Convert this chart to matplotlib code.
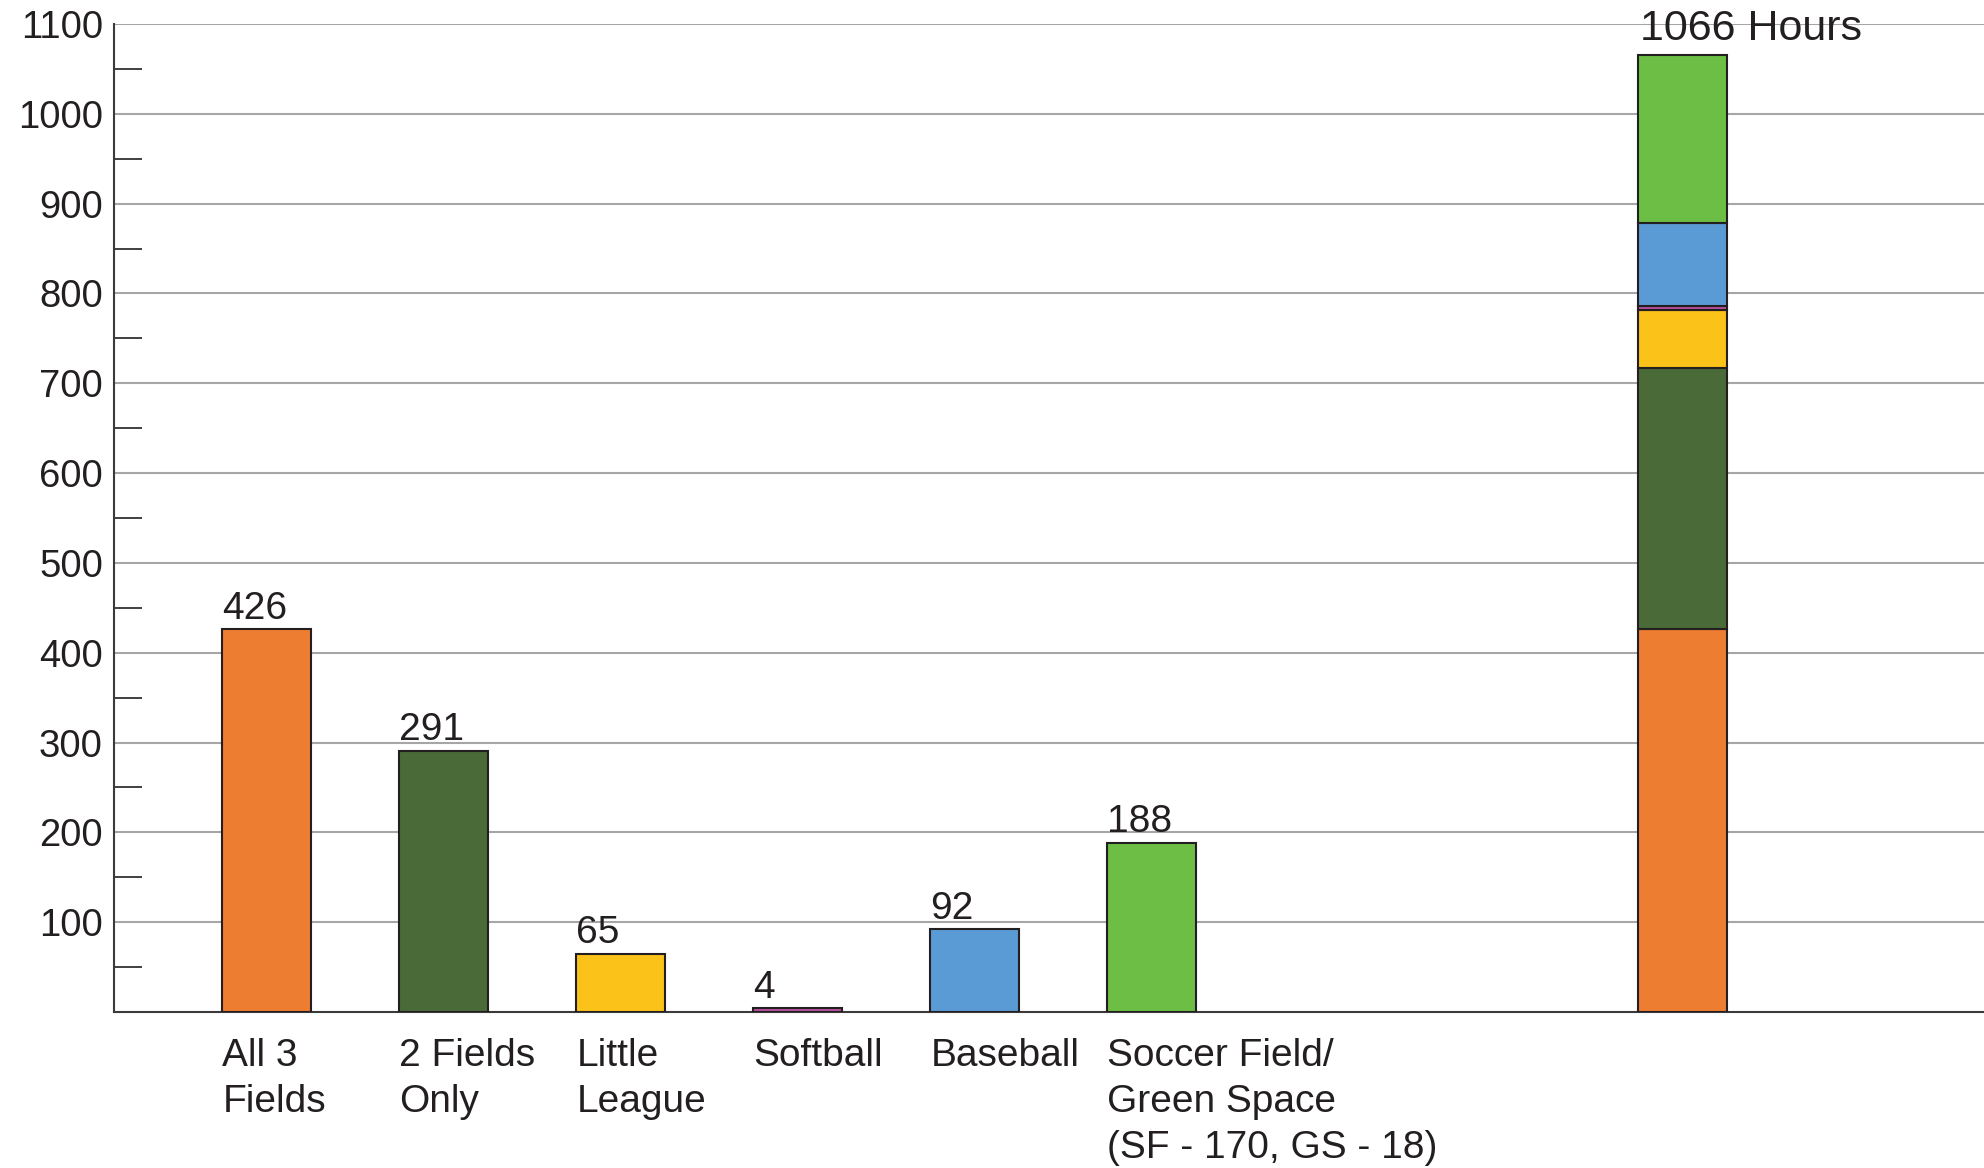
import matplotlib
matplotlib.use("Agg")
import matplotlib.pyplot as plt
import numpy as np

plt.rcParams['font.family'] = ['Liberation Sans', 'DejaVu Sans']

categories = ["All 3\nFields", "2 Fields\nOnly", "Little\nLeague", "Softball",
              "Baseball", "Soccer Field/\nGreen Space\n(SF - 170, GS - 18)"]
values = [426, 291, 65, 4, 92, 188]
colors = ["#ED7D31", "#4A6B37", "#FBC21A", "#B9509F", "#5B9BD5", "#6DBE45"]
total_label = "1066 Hours"
yticks = [100, 200, 300, 400, 500, 600, 700, 800, 900, 1000, 1100]
yminor = [50, 150, 250, 350, 450, 550, 650, 750, 850, 950, 1050]

txt = "#231F20"
fig = plt.figure(figsize=(19.84, 11.68), dpi=100)
ax = fig.add_axes([114/1984, 1 - 1012/1168, 1 - 114/1984, (1012 - 24)/1168])

w = 0.5
xpos = np.arange(len(values))
stack_x = 8
ax.bar(xpos, values, width=w, color=colors, edgecolor=txt, linewidth=1.5, zorder=3)
for x, v in zip(xpos, values):
    ax.text(x - w/2, v + 3, str(v), ha='left', va='bottom', fontsize=28, color=txt)

bottom = 0
for v, c in zip(values, colors):
    ax.bar(stack_x, v, bottom=bottom, width=w, color=c, edgecolor=txt, linewidth=1.5, zorder=3)
    bottom += v
ax.text(stack_x - w/2 + 0.01, bottom + 6, total_label, ha='left', va='bottom', fontsize=31, color=txt)

ax.set_xlim(-0.8616, 9.703)
ax.set_ylim(0, 1100)
ax.set_yticks(yticks)
ax.set_yticklabels([str(t) for t in yticks], fontsize=27.5, color=txt)
ax.set_yticks(yminor, minor=True)
ax.tick_params(axis='y', which='major', length=0, pad=8)
ax.tick_params(axis='y', which='minor', length=20, width=1.2, color=txt, direction='in')
ax.set_xticks([])
ax.grid(axis='y', which='major', color='#A6A6A6', linewidth=1.5, zorder=0)
for s in ['top', 'right']:
    ax.spines[s].set_visible(False)
for s in ['left', 'bottom']:
    ax.spines[s].set_color('#3a3a3a')
    ax.spines[s].set_linewidth(1.5)

for x, lab in zip(xpos, categories):
    ax.text(x - w/2, -29, lab, ha='left', va='top', fontsize=28, color=txt,
            linespacing=1.36, transform=ax.transData)

fig.savefig("out.png", dpi=100)
